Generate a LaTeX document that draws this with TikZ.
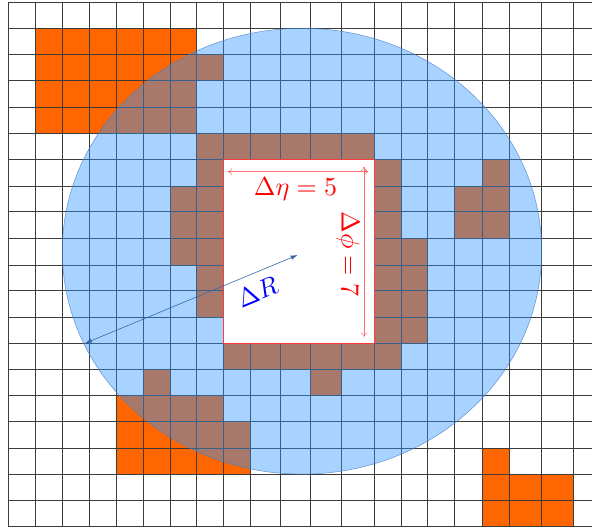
\documentclass[tikz,border=0pt]{standalone}
\usepackage{graphicx}
\usetikzlibrary{arrows.meta}
\definecolor{cellorange}{RGB}{255,102,0}
\definecolor{discblue}{RGB}{50,148,255}
\definecolor{discedge}{RGB}{70,125,195}
\definecolor{gridgray}{RGB}{60,60,60}
\definecolor{arrowred}{RGB}{255,110,110}
\definecolor{rectred}{RGB}{250,60,60}
\definecolor{rblue}{RGB}{55,105,170}
\def\XX{{8.3,35.7,62.7,89.3,116.3,143,170,196.7,223.8,250.7,280.7,310.3,341.7,374.6,401,427.7,454.7,482,509.3,541,573.7,592}}
\def\YY{{2.7,28.3,54.3,80.7,107.3,133.3,159.3,186,211.7,238.3,265,290.7,317.3,343.3,369.3,395,421.7,448.3,474,500.7,526.7}}
\newcommand\cellblock[4]{%
  \pgfmathsetmacro\xa{\XX[#1]}%
  \pgfmathsetmacro\ya{\YY[#2]}%
  \pgfmathsetmacro\xb{\XX[#3+1]}%
  \pgfmathsetmacro\yb{\YY[#4+1]}%
  \fill[cellorange] (\xa,\ya) rectangle (\xb,\yb);%
}
\newcommand\bigtxt[1]{\scalebox{2.6}{#1}}
\tikzset{
  gridline/.style={gridgray, line width=0.7pt},
  lbl/.style={inner sep=0pt},
  thinred/.style={arrowred, line width=0.5pt, {To[length=4.5pt,width=7pt]}-{To[length=4.5pt,width=7pt]}},
  rarrow/.style={rblue, line width=0.6pt, {Latex[length=7pt,width=4.5pt]}-{Latex[length=7pt,width=4.5pt]}}
}
\begin{document}
\begin{tikzpicture}[x=1pt,y=-1pt]
\useasboundingbox (0,0) rectangle (592,529);
\fill[white] (0,0) rectangle (592,529);
% orange cells
\cellblock{1}{1}{6}{4}
\cellblock{7}{2}{7}{2}
\cellblock{7}{5}{12}{5}
\cellblock{7}{6}{7}{11}
\cellblock{6}{7}{6}{9}
\cellblock{13}{6}{13}{13}
\cellblock{14}{9}{14}{12}
\cellblock{16}{7}{17}{8}
\cellblock{17}{6}{17}{6}
\cellblock{8}{13}{12}{13}
\cellblock{5}{14}{5}{14}
\cellblock{11}{14}{11}{14}
\cellblock{4}{15}{7}{15}
\cellblock{4}{16}{8}{17}
\cellblock{17}{17}{17}{19}
\cellblock{18}{18}{19}{19}
% grid
\foreach \i in {0,...,20} {
  \pgfmathsetmacro\gx{\XX[\i]}
  \draw[gridline] (\gx,2.7) -- (\gx,526.7);
}
\foreach \j in {0,...,20} {
  \pgfmathsetmacro\gy{\YY[\j]}
  \draw[gridline] (8.3,\gy) -- (592,\gy);
}
% disc
\fill[discblue, fill opacity=0.42] (302,251.2) ellipse [x radius=239.7pt, y radius=222.9pt];
\draw[discedge, line width=0.5pt, opacity=0.8] (302,251.2) ellipse [x radius=239.7pt, y radius=222.9pt];
% window
\draw[rectred, line width=0.8pt, fill=white] (223.8,159.3) rectangle (374.6,343.3);
% arrows
\coordinate (etaL) at (227.7,171.7);
\coordinate (etaR) at (368.3,171.7);
\coordinate (phiT) at (364,166.7);
\coordinate (phiB) at (364,337);
\coordinate (rC) at (297.7,255);
\coordinate (rE) at (85,343.3);
\draw[thinred] (etaL) -- (etaR);
\draw[thinred] (phiT) -- (phiB);
\draw[rarrow] (rE) -- (rC);
% labels
\node[lbl, red, anchor=base] (etalbl) at (295.5,196) {\bigtxt{$\Delta\eta = 5$}};
\node[lbl, red, rotate=-90] (philbl) at (348,254) {\bigtxt{$\Delta\phi = 7$}};
\node[lbl, blue, rotate=22.5] (rlbl) at (257.5,292) {\bigtxt{$\Delta R$}};
\end{tikzpicture}
\end{document}
